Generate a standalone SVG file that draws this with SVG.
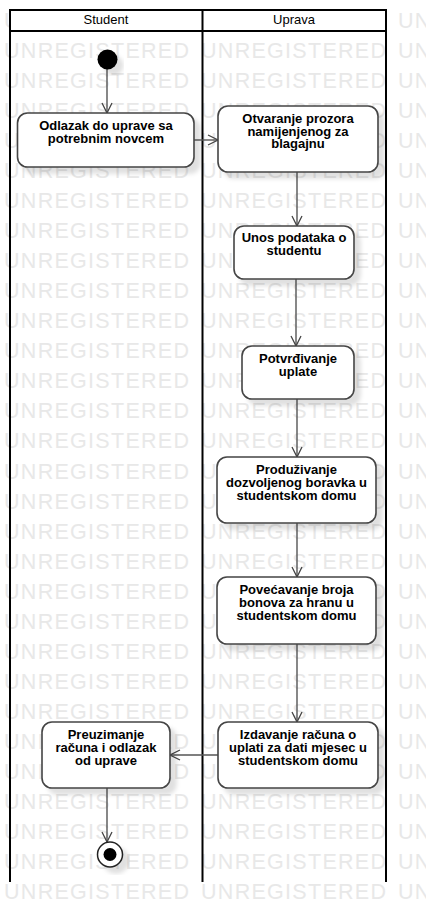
<svg xmlns="http://www.w3.org/2000/svg" xmlns:xlink="http://www.w3.org/1999/xlink" width="426" height="922" viewBox="0 0 426 922">
<style>
.wm{font-family:"Liberation Sans",Arial,sans-serif;font-size:21.5px;fill:#e8e8e8}
.hdr{font-family:"Liberation Sans",Arial,sans-serif;font-size:13px;fill:#000;text-anchor:middle}
.lane{stroke:#000;stroke-width:2;fill:none}
.box{fill:#fff;stroke:#444;stroke-width:1.6}
.lbl{font-family:"Liberation Sans",Arial,sans-serif;font-size:13px;font-weight:bold;fill:#000;text-anchor:middle}
.edge{stroke:#555;stroke-width:1.4;fill:none;marker-end:url(#arr)}
</style>
<defs>
<filter id="sh" x="-20%" y="-20%" width="150%" height="150%">
<feDropShadow dx="6" dy="6" stdDeviation="2" flood-color="#000" flood-opacity="0.12"/>
</filter>
<marker id="arr" markerUnits="userSpaceOnUse" viewBox="0 0 12 12" markerWidth="12" markerHeight="12" refX="11" refY="6" orient="auto">
<path d="M1,1 L11,6 L1,11" fill="none" stroke="#444" stroke-width="1.3"/>
</marker>
<g id="wmrow" class="wm">
<text x="4" y="0" textLength="185" lengthAdjust="spacing">UNREGISTERED</text>
<text x="201" y="0" textLength="185" lengthAdjust="spacing">UNREGISTERED</text>
<text x="398" y="0" textLength="185" lengthAdjust="spacing">UNREGISTERED</text>
</g>
</defs>
<rect x="0" y="0" width="426" height="922" fill="#fff"/>
<g id="watermark">
<use xlink:href="#wmrow" y="28"/>
<use xlink:href="#wmrow" y="58"/>
<use xlink:href="#wmrow" y="88.1"/>
<use xlink:href="#wmrow" y="118.1"/>
<use xlink:href="#wmrow" y="148.1"/>
<use xlink:href="#wmrow" y="178.2"/>
<use xlink:href="#wmrow" y="208.2"/>
<use xlink:href="#wmrow" y="238.2"/>
<use xlink:href="#wmrow" y="268.2"/>
<use xlink:href="#wmrow" y="298.3"/>
<use xlink:href="#wmrow" y="328.3"/>
<use xlink:href="#wmrow" y="358.3"/>
<use xlink:href="#wmrow" y="388.4"/>
<use xlink:href="#wmrow" y="418.4"/>
<use xlink:href="#wmrow" y="448.4"/>
<use xlink:href="#wmrow" y="478.5"/>
<use xlink:href="#wmrow" y="508.5"/>
<use xlink:href="#wmrow" y="538.5"/>
<use xlink:href="#wmrow" y="568.5"/>
<use xlink:href="#wmrow" y="598.6"/>
<use xlink:href="#wmrow" y="628.6"/>
<use xlink:href="#wmrow" y="658.6"/>
<use xlink:href="#wmrow" y="688.7"/>
<use xlink:href="#wmrow" y="718.7"/>
<use xlink:href="#wmrow" y="748.7"/>
<use xlink:href="#wmrow" y="778.8"/>
<use xlink:href="#wmrow" y="808.8"/>
<use xlink:href="#wmrow" y="838.8"/>
<use xlink:href="#wmrow" y="868.8"/>
<use xlink:href="#wmrow" y="898.9"/>
</g>
<g id="lanes">
<rect x="10" y="10" width="376" height="21" fill="#fff"/>
<line class="lane" x1="10" y1="10" x2="386" y2="10"/>
<line class="lane" x1="10" y1="31" x2="386" y2="31"/>
<line class="lane" x1="10" y1="9" x2="10" y2="882"/>
<line class="lane" x1="202.5" y1="9" x2="202.5" y2="882"/>
<line class="lane" x1="386" y1="9" x2="386" y2="882"/>
<text class="hdr" x="106" y="24">Student</text>
<text class="hdr" x="294" y="24">Uprava</text>
</g>
<g id="connectors">
<line class="edge" x1="107" y1="69" x2="107" y2="113"/>
<line class="edge" x1="194" y1="140" x2="218" y2="140"/>
<line class="edge" x1="297" y1="172" x2="297" y2="226"/>
<line class="edge" x1="296" y1="279" x2="296" y2="346"/>
<line class="edge" x1="297" y1="399" x2="297" y2="457"/>
<line class="edge" x1="297" y1="523" x2="297" y2="577"/>
<line class="edge" x1="297" y1="644" x2="297" y2="722"/>
<line class="edge" x1="218" y1="755" x2="170" y2="755"/>
<line class="edge" x1="107" y1="788" x2="107" y2="842"/>
</g>
<g id="start">
<circle cx="107.5" cy="59.5" r="10" fill="#000" filter="url(#sh)"/>
</g>
<g id="a1">
<rect class="box" x="17.5" y="113" width="176.5" height="54" rx="10" filter="url(#sh)"/>
<text class="lbl" x="106" y="130">Odlazak do uprave sa</text>
<text class="lbl" x="106" y="143">potrebnim novcem</text>
</g>
<g id="a2">
<rect class="box" x="218" y="106" width="160" height="66" rx="10" filter="url(#sh)"/>
<text class="lbl" x="298" y="123">Otvaranje prozora</text>
<text class="lbl" x="298" y="135.5">namijenjenog za</text>
<text class="lbl" x="298" y="148">blagajnu</text>
</g>
<g id="a3">
<rect class="box" x="234" y="226" width="120" height="53" rx="10" filter="url(#sh)"/>
<text class="lbl" x="294" y="242">Unos podataka o</text>
<text class="lbl" x="294" y="255">studentu</text>
</g>
<g id="a4">
<rect class="box" x="242" y="346" width="112" height="53" rx="10" filter="url(#sh)"/>
<text class="lbl" x="298" y="363">Potvrđivanje</text>
<text class="lbl" x="298" y="376">uplate</text>
</g>
<g id="a5">
<rect class="box" x="217" y="457" width="159" height="66" rx="10" filter="url(#sh)"/>
<text class="lbl" x="296.5" y="474">Produživanje</text>
<text class="lbl" x="296.5" y="487">dozvoljenog boravka u</text>
<text class="lbl" x="296.5" y="500">studentskom domu</text>
</g>
<g id="a6">
<rect class="box" x="217" y="577" width="159" height="67" rx="10" filter="url(#sh)"/>
<text class="lbl" x="296.5" y="594">Povećavanje broja</text>
<text class="lbl" x="296.5" y="607">bonova za hranu u</text>
<text class="lbl" x="296.5" y="620">studentskom domu</text>
</g>
<g id="a7">
<rect class="box" x="218" y="722" width="160" height="66" rx="10" filter="url(#sh)"/>
<text class="lbl" x="298" y="739">Izdavanje računa o</text>
<text class="lbl" x="298" y="752">uplati za dati mjesec u</text>
<text class="lbl" x="298" y="765">studentskom domu</text>
</g>
<g id="a8">
<rect class="box" x="42" y="722" width="128" height="66" rx="10" filter="url(#sh)"/>
<text class="lbl" x="106" y="739">Preuzimanje</text>
<text class="lbl" x="106" y="752">računa i odlazak</text>
<text class="lbl" x="106" y="765">od uprave</text>
</g>
<g id="end">
<circle cx="110" cy="854.5" r="12.5" fill="#fff" stroke="#222" stroke-width="1.5" filter="url(#sh)"/>
<circle cx="110" cy="854.5" r="6.5" fill="#000"/>
</g>
</svg>
